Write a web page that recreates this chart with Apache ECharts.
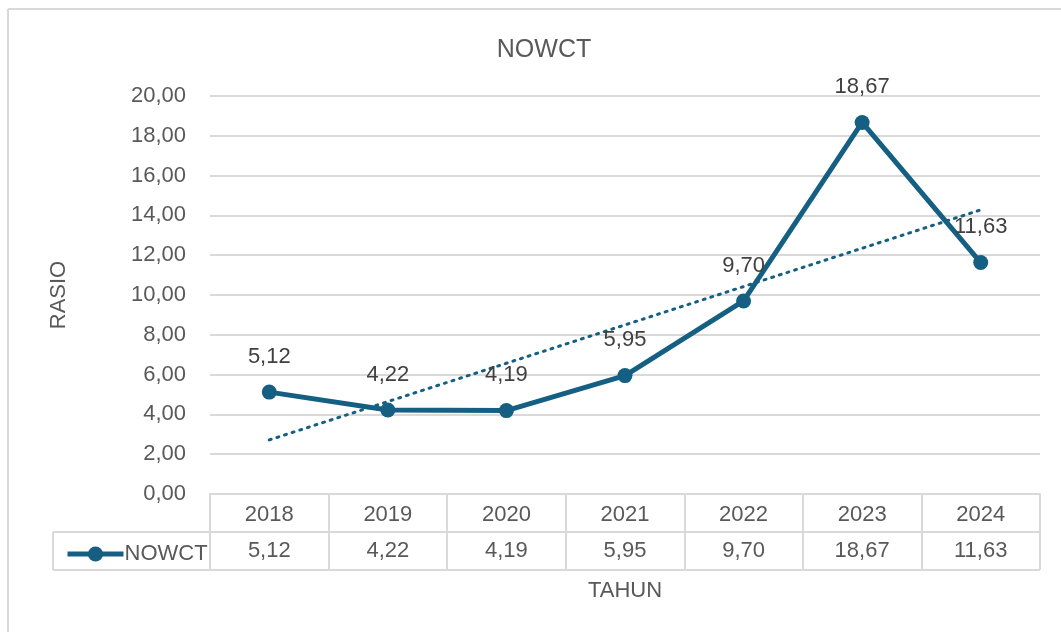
<!DOCTYPE html>
<html>
<head>
<meta charset="utf-8">
<script src="https://cdn.jsdelivr.net/npm/echarts@6/dist/echarts.min.js"></script>
<style>
  html, body { margin: 0; padding: 0; background: #fff; }
  #chart { width: 1061px; height: 632px; }
</style>
</head>
<body>
<div id="chart"></div>
<script>
// data
const years = ['2018', '2019', '2020', '2021', '2022', '2023', '2024'];
const nowct = [5.12, 4.22, 4.19, 5.95, 9.70, 18.67, 11.63];
const yTicks = { min: 0, max: 20, interval: 2 };

const fmt = v => v.toFixed(2).replace('.', ',');

// linear trend (least squares over 1..n, like Excel)
const n = nowct.length;
const xMean = (n + 1) / 2;
const yMean = nowct.reduce((a, b) => a + b, 0) / n;
let sxy = 0, sxx = 0;
nowct.forEach((v, i) => {
  sxy += (i + 1 - xMean) * (v - yMean);
  sxx += (i + 1 - xMean) * (i + 1 - xMean);
});
const slope = sxy / sxx;
const trend = nowct.map((v, i) => yMean + slope * (i + 1 - xMean));

const color = '#156082';
const textColor = '#595959';
const lineGray = '#d9d9d9';
const font = '"Liberation Sans", Arial, sans-serif';

const chart = echarts.init(document.getElementById('chart'));

const option = {
  animation: false,
  textStyle: { fontFamily: font },
  title: {
    text: 'NOWCT',
    left: 539, top: 33, textAlign: 'center',
    textStyle: { fontSize: 25, fontWeight: 'normal', color: textColor, fontFamily: font }
  },
  legend: {
    data: ['NOWCT'],
    left: 60, top: 538,
    itemWidth: 56, itemHeight: 19, itemGap: 4,
    lineStyle: { width: 5 },
    textStyle: { fontSize: 22, color: textColor, fontFamily: font, padding: [0, 0, 0, -4] }
  },
  grid: { left: 210, right: 21, top: 96, bottom: 138 },
  xAxis: [{
    type: 'category',
    data: years,
    boundaryGap: true,
    axisLine: { lineStyle: { color: lineGray, width: 2 } },
    axisTick: { show: true, length: 76, interval: 0, lineStyle: { color: lineGray, width: 2 } },
    axisLabel: { margin: 10, fontSize: 22, color: textColor, fontFamily: font },
    name: 'TAHUN', nameLocation: 'middle', nameGap: 86,
    nameTextStyle: { fontSize: 22, color: textColor, fontFamily: font }
  }, {
    type: 'category',
    data: nowct.map(fmt),
    position: 'bottom',
    boundaryGap: true,
    axisLine: { show: false },
    axisTick: { show: false },
    axisLabel: { margin: 46, fontSize: 22, color: textColor, fontFamily: font }
  }],
  yAxis: {
    type: 'value',
    min: yTicks.min, max: yTicks.max, interval: yTicks.interval,
    axisLine: { show: false },
    axisTick: { show: false },
    axisLabel: { margin: 24, fontSize: 22, color: textColor, fontFamily: font, formatter: fmt },
    splitLine: { lineStyle: { color: lineGray, width: 2 } },
    name: 'RASIO', nameLocation: 'middle', nameGap: 140, nameRotate: 90,
    nameTextStyle: { fontSize: 22, color: textColor, fontFamily: font }
  },
  series: [{
    name: 'NOWCT',
    type: 'line',
    data: nowct,
    smooth: false,
    symbol: 'circle',
    symbolSize: 15,
    lineStyle: { color: color, width: 5, join: 'round' },
    itemStyle: { color: color },
    label: {
      show: true, position: 'top', distance: 17,
      fontSize: 22, color: '#404040', fontFamily: font,
      formatter: p => fmt(p.value)
    },
    z: 3
  }, {
    name: 'Linear (NOWCT)',
    type: 'line',
    data: trend,
    showSymbol: false,
    symbol: 'none',
    lineStyle: { color: color, width: 3, type: [2, 6], cap: 'round' },
    silent: true,
    z: 2
  }]
};
chart.setOption(option);

// table borders and outer frame
function drawTable() {
  const x0 = chart.convertToPixel({ xAxisIndex: 0 }, years[0]);
  const x1 = chart.convertToPixel({ xAxisIndex: 0 }, years[1]);
  const band = x1 - x0;
  const left = x0 - band / 2;
  const right = chart.convertToPixel({ xAxisIndex: 0 }, years[years.length - 1]) + band / 2;
  const base = chart.convertToPixel({ yAxisIndex: 0 }, 0);
  const rowH = 38;
  const legendLeft = 53;
  const ls = { stroke: lineGray, lineWidth: 2 };
  chart.setOption({
    graphic: [
      { type: 'line', shape: { x1: legendLeft, y1: base + rowH, x2: right, y2: base + rowH }, style: ls, silent: true },
      { type: 'line', shape: { x1: legendLeft, y1: base + 2 * rowH, x2: right, y2: base + 2 * rowH }, style: ls, silent: true },
      { type: 'line', shape: { x1: legendLeft, y1: base + rowH, x2: legendLeft, y2: base + 2 * rowH }, style: ls, silent: true },
      { type: 'line', shape: { x1: left, y1: base, x2: left, y2: base + 2 * rowH }, style: ls, silent: true },
      { type: 'line', shape: { x1: 8, y1: 9, x2: 1061, y2: 9 }, style: ls, silent: true },
      { type: 'line', shape: { x1: 8, y1: 9, x2: 8, y2: 632 }, style: ls, silent: true }
    ]
  });
}
drawTable();
</script>
</body>
</html>
